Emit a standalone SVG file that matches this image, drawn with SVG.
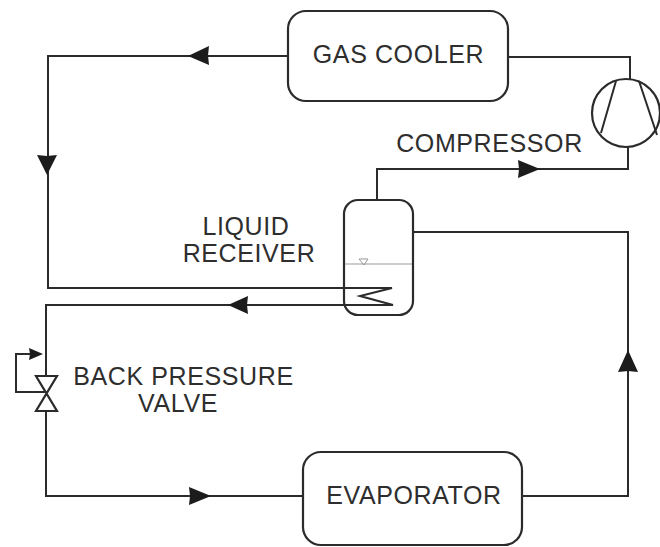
<svg xmlns="http://www.w3.org/2000/svg" width="660" height="547" viewBox="0 0 660 547">
<style>
.l{fill:none;stroke:#2b2b2b;stroke-width:2}
.b{fill:#fff;stroke:#2b2b2b;stroke-width:2.2}
.a{fill:#1c1c1c;stroke:none}
text{font-family:"Liberation Sans",Arial,sans-serif;font-size:25px;letter-spacing:.6px;fill:#2e2e2e;text-anchor:middle}
</style>
<rect width="660" height="547" fill="#fff"/>
<g id="connectors">
<path class="l" d="M288 56H48V288H345"/>
<path class="l" d="M508 57H630V80"/>
<path class="l" d="M628 147V169H377V200"/>
<path class="l" d="M412 232H628V496H522"/>
<path class="l" d="M303 496H46V411"/>
<path class="l" d="M46 376V305H345"/>
<path class="l" d="M46 392H16V354H38"/>
<path class="a" d="M188 56L209 46L208 55.500L209 65Z"/>
<path class="a" d="M47 175L37 155L47 156L57 155Z"/>
<path class="a" d="M540 169L518 160L519 169L518 178Z"/>
<path class="a" d="M628 350L618 372L628 371L638 372Z"/>
<path class="a" d="M228 305L248 296L247 305L248 314Z"/>
<path class="a" d="M211 496L189 487L190 496L189 505Z"/>
<path class="a" d="M43 354L29 348L30 354L29 360Z"/>
</g>
<g id="gas-cooler"><rect class="b" x="288" y="11" width="220" height="90" rx="18"/><text x="398.500" y="63">GAS COOLER</text></g>
<g id="compressor"><circle class="b" cx="626" cy="113" r="34"/><path class="l" d="M616 81L601 133M639 81L657 135"/><text x="489.500" y="152">COMPRESSOR</text></g>
<g id="liquid-receiver"><rect class="b" x="344" y="200" width="69" height="115" rx="14"/><path fill="none" stroke="#999" stroke-width="1.200" d="M345 264H412"/><path fill="none" stroke="#999" stroke-width="1" d="M359 259H368L364 265Z"/><path class="l" d="M345 288H392L360 296L393 305H345"/><text x="246" y="235">LIQUID</text><text x="249" y="262">RECEIVER</text></g>
<g id="back-pressure-valve"><path class="b" style="fill:none" d="M36 376H57L36 411H57Z"/><text x="183.500" y="385">BACK PRESSURE</text><text x="178" y="412">VALVE</text></g>
<g id="evaporator"><rect class="b" x="303" y="452" width="219" height="93" rx="18"/><text x="414" y="504">EVAPORATOR</text></g>
</svg>
